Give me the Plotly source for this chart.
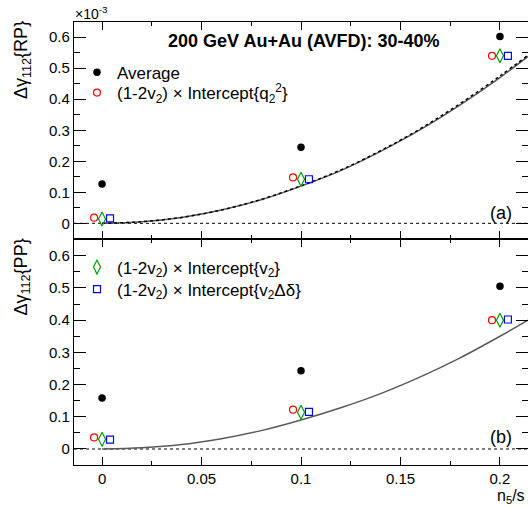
import plotly.graph_objects as go

# ---------------- data (values in units of 1e-3) ----------------
n5s = [0.0, 0.1, 0.2]
offset_q2 = -0.004
offset_v2dd = 0.004

rp_average = [0.127, 0.245, 0.602]
rp_q2 = [0.018, 0.148, 0.540]
rp_v2 = [0.014, 0.142, 0.540]
rp_v2dd = [0.016, 0.142, 0.540]

pp_average = [0.158, 0.243, 0.505]
pp_q2 = [0.036, 0.122, 0.400]
pp_v2 = [0.030, 0.114, 0.400]
pp_v2dd = [0.029, 0.115, 0.402]

fit_x = [0.0, 0.02, 0.04, 0.06, 0.08, 0.10, 0.12, 0.14, 0.16, 0.18, 0.20, 0.2141]
rp_fit = [0.0, 0.005, 0.019, 0.043, 0.076, 0.120, 0.170, 0.232, 0.302, 0.382, 0.470, 0.538]
rp_fit_dotted = [0.0, 0.005, 0.019, 0.043, 0.077, 0.121, 0.172, 0.234, 0.305, 0.386, 0.475, 0.542]
pp_fit = [0.0, 0.004, 0.014, 0.032, 0.057, 0.090, 0.128, 0.172, 0.224, 0.283, 0.350, 0.400]

x_ticks = [0, 0.05, 0.1, 0.15, 0.2]
x_ticklabels = ["0", "0.05", "0.1", "0.15", "0.2"]
y_ticks = [0, 0.1, 0.2, 0.3, 0.4, 0.5, 0.6]
y_ticklabels = ["0", "0.1", "0.2", "0.3", "0.4", "0.5", "0.6"]

lab_avg = "Average"
lab_q2 = "(1-2v<sub>2</sub>) × Intercept{q<sub>2</sub><sup>2</sup>}"
lab_v2 = "(1-2v<sub>2</sub>) × Intercept{v<sub>2</sub>}"
lab_v2dd = "(1-2v<sub>2</sub>) × Intercept{v<sub>2</sub>Δδ}"

# ---------------- layout geometry ----------------
W, H = 528, 507
ML, MR, MT, MB = 74, 0, 22, 42
PW, PH = W - ML - MR, H - MT - MB


def px(x):
    return (x - ML) / PW


def py(y):
    return (H - MB - y) / PH


split = py(239.3)
FONT = "Liberation Sans, Arial, Helvetica, sans-serif"

RED = "rgb(255,0,0)"
GREEN = "rgb(0,160,0)"
BLUE = "rgb(0,0,255)"
GREY = "rgb(90,90,90)"

fig = go.Figure()

def add_points(xs, ys, name, symbol, color, size, xa, ya, legend, fill=False, showlegend=True):
    fig.add_trace(go.Scatter(
        x=xs, y=ys, mode="markers", name=name,
        marker=dict(symbol=symbol, size=size, color=color,
                    line=dict(color=color, width=1.2 if not fill else 0)),
        xaxis=xa, yaxis=ya, legend=legend, showlegend=showlegend))

# top panel (RP)
fig.add_trace(go.Scatter(x=fit_x, y=rp_fit, mode="lines", line=dict(color=GREY, width=1.5, shape="spline"),
                         xaxis="x2", yaxis="y2", showlegend=False))
fig.add_trace(go.Scatter(x=fit_x, y=rp_fit_dotted, mode="lines",
                         line=dict(color="black", width=1.5, dash="dot", shape="spline"),
                         xaxis="x2", yaxis="y2", showlegend=False))
add_points(n5s, rp_average, lab_avg, "circle", "black", 7.5, "x2", "y2", "legend", fill=True)
add_points([v + offset_q2 for v in n5s], rp_q2, lab_q2, "circle-open", RED, 7, "x2", "y2", "legend2")
add_points(n5s, rp_v2, lab_v2, "diamond-tall-open", GREEN, 10, "x2", "y2", "legend3", showlegend=False)
add_points([v + offset_v2dd for v in n5s], rp_v2dd, lab_v2dd, "square-open", BLUE, 7, "x2", "y2", "legend4", showlegend=False)

# bottom panel (PP)
fig.add_trace(go.Scatter(x=fit_x, y=pp_fit, mode="lines", line=dict(color=GREY, width=1.5, shape="spline"),
                         xaxis="x", yaxis="y", showlegend=False))
add_points(n5s, pp_average, lab_avg, "circle", "black", 7.5, "x", "y", "legend", fill=True, showlegend=False)
add_points([v + offset_q2 for v in n5s], pp_q2, lab_q2, "circle-open", RED, 7, "x", "y", "legend2", showlegend=False)
add_points(n5s, pp_v2, lab_v2, "diamond-tall-open", GREEN, 10, "x", "y", "legend3")
add_points([v + offset_v2dd for v in n5s], pp_v2dd, lab_v2dd, "square-open", BLUE, 7, "x", "y", "legend4")

xr = [-0.0141, 0.2141]
axis_common = dict(showline=True, linecolor="black", linewidth=1.2, mirror="allticks",
                   ticks="inside", tickcolor="black", tickwidth=1, showgrid=False, zeroline=False,
                   tickfont=dict(family=FONT, size=15, color="black"))
xcommon = dict(axis_common, range=xr, tickvals=x_ticks, ticktext=x_ticklabels, ticklen=8,
               minor=dict(dtick=0.025, tick0=0, ticklen=4, ticks="inside", tickcolor="black", showgrid=False))
ycommon = dict(axis_common, tickvals=y_ticks, ticktext=y_ticklabels, ticklen=12,
               minor=dict(dtick=0.05, tick0=0, ticklen=6, ticks="inside", tickcolor="black", showgrid=False))


def leg(yc):
    return dict(x=px(77), y=py(yc), xanchor="left", yanchor="middle", bgcolor="rgba(0,0,0,0)",
                font=dict(family=FONT, size=17), itemwidth=30, borderwidth=0)


fig.update_layout(
    width=W, height=H, autosize=False,
    margin=dict(l=ML, r=MR, t=MT, b=MB),
    paper_bgcolor="white", plot_bgcolor="white",
    font=dict(family=FONT, color="black"),
    xaxis=dict(xcommon, anchor="y", domain=[0, 1], showticklabels=True),
    xaxis2=dict(xcommon, anchor="y2", domain=[0, 1], matches="x", showticklabels=False),
    yaxis=dict(ycommon, anchor="x", domain=[0, split], range=[-0.0497, 0.651]),
    yaxis2=dict(ycommon, anchor="x2", domain=[split, 1], range=[-0.0516, 0.649]),
    legend=leg(72.7),
    legend2=leg(93),
    legend3=leg(267.5),
    legend4=leg(289.5),
    showlegend=True,
)

# dashed zero lines
for ya in ["y", "y2"]:
    fig.add_shape(type="line", xref="paper", x0=0, x1=1, yref=ya, y0=0, y1=0,
                  line=dict(color="black", width=1, dash="3px,3px"), layer="below")

annots = [
    dict(text="<b>200 GeV Au+Au (AVFD): 30-40%</b>", x=px(304), y=py(41), xanchor="center", yanchor="middle",
         font=dict(size=18)),
    dict(text="×10<sup>-3</sup>", x=px(73), y=py(13), xanchor="left", yanchor="middle", font=dict(size=14)),
    dict(text="Δγ<sub>112</sub>{RP}", textangle=-90, x=px(22), y=py(19), xanchor="center", yanchor="top",
         font=dict(size=18)),
    dict(text="Δγ<sub>112</sub>{PP}", textangle=-90, x=px(22), y=py(237), xanchor="center", yanchor="top",
         font=dict(size=18)),
    dict(text="n<sub>5</sub>/s", x=px(527), y=py(496), xanchor="right", yanchor="middle", font=dict(size=16)),
    dict(text="(a)", x=px(501), y=py(213), xanchor="center", yanchor="middle", font=dict(size=18)),
    dict(text="(b)", x=px(501), y=py(437), xanchor="center", yanchor="middle", font=dict(size=18)),
]
for a in annots:
    a.update(xref="paper", yref="paper", showarrow=False)
    a["font"] = dict(family=FONT, color="black", **a["font"])
    fig.add_annotation(**a)

fig.write_html("out.html", config={"displayModeBar": False},
               post_script="document.body.style.margin='0px';")
